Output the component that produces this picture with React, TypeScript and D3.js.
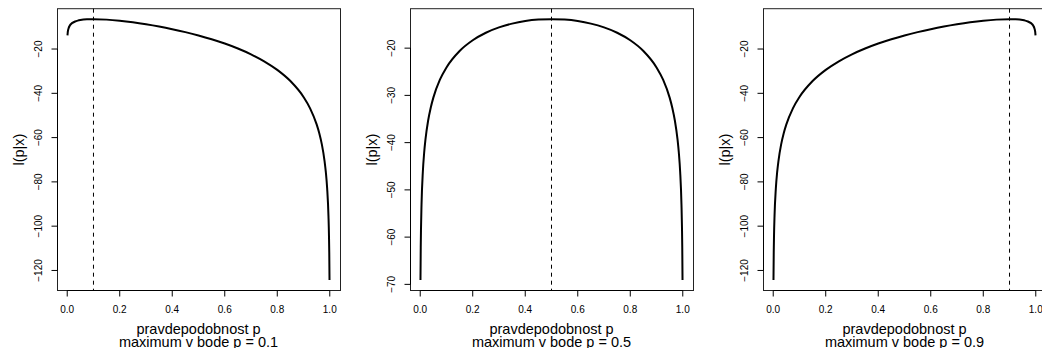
import React from "react";
import * as d3 from "d3";

const pGrid = [0.001,0.002,0.003,0.005,0.01,0.015,0.02,0.03,0.04,0.05,0.075,0.1,0.15,0.2,0.25,0.3,0.35,0.4,0.45,0.5,0.55,0.6,0.65,0.7,0.75,0.8,0.85,0.9,0.925,0.95,0.96,0.97,0.98,0.985,0.99,0.995,0.997,0.998,0.999];

const llP01 = [-13.83,-12.47,-11.67,-10.69,-9.39,-8.67,-8.19,-7.56,-7.17,-6.91,-6.58,-6.50,-6.72,-7.24,-7.95,-8.83,-9.85,-11.03,-12.36,-13.86,-15.57,-17.52,-19.76,-22.38,-25.53,-29.42,-34.47,-41.66,-46.78,-54.03,-58.02,-63.18,-70.46,-75.63,-82.91,-95.38,-104.57,-111.87,-124.34];

const llP05 = [-69.09,-62.17,-58.12,-53.03,-46.15,-42.15,-39.32,-35.37,-32.60,-30.47,-26.68,-24.08,-20.60,-18.33,-16.74,-15.61,-14.81,-14.27,-13.96,-13.86,-13.96,-14.27,-14.81,-15.61,-16.74,-18.33,-20.60,-24.08,-26.68,-30.47,-32.60,-35.37,-39.32,-42.15,-46.15,-53.03,-58.12,-62.17,-69.09];

const llP09 = [-124.34,-111.87,-104.57,-95.38,-82.91,-75.63,-70.46,-63.18,-58.02,-54.03,-46.78,-41.66,-34.47,-29.42,-25.53,-22.38,-19.76,-17.52,-15.57,-13.86,-12.36,-11.03,-9.85,-8.83,-7.95,-7.24,-6.72,-6.50,-6.58,-6.91,-7.17,-7.56,-8.19,-8.67,-9.39,-10.69,-11.67,-12.47,-13.83];

const maxima = [0.1, 0.5, 0.9];
const maxLabels = ["0.1", "0.5", "0.9"];
const xTicks = [0, 0.2, 0.4, 0.6, 0.8, 1.0];
const yTicksA = [-20, -40, -60, -80, -100, -120];
const yTicksB = [-20, -30, -40, -50, -60, -70];

const panels = [
  { values: llP01, yTicks: yTicksA, pmax: maxima[0], label: maxLabels[0] },
  { values: llP05, yTicks: yTicksB, pmax: maxima[1], label: maxLabels[1] },
  { values: llP09, yTicks: yTicksA, pmax: maxima[2], label: maxLabels[2] },
];

const W = 1042, H = 348;
const panelLefts = [57, 410, 763];
const plotW = 283;
const top = 8.7, bottom = 290.5;
const font = "'Liberation Sans', Arial, Helvetica, sans-serif";

function expand(ext: [number, number]): [number, number] {
  const d = (ext[1] - ext[0]) * 0.04;
  return [ext[0] - d, ext[1] + d];
}

function Panel({ idx }: { idx: number }) {
  const p = panels[idx];
  const left = panelLefts[idx];
  const x = d3.scaleLinear().domain(expand(d3.extent(pGrid) as [number, number])).range([left, left + plotW]);
  const y = d3.scaleLinear().domain(expand(d3.extent(p.values) as [number, number])).range([bottom, top]);
  const line = d3.line<number>().x((_, i) => x(pGrid[i])).y((v) => y(v)).curve(d3.curveMonotoneX);
  const yt = p.yTicks;
  const ytMin = d3.min(yt)!, ytMax = d3.max(yt)!;
  const cx = left + plotW / 2;
  return (
    <g>
      <rect x={left + 0.5} y={top} width={plotW} height={bottom - top} fill="none" stroke="#222" strokeWidth={1} />
      <line x1={x(p.pmax)} x2={x(p.pmax)} y1={top} y2={bottom} stroke="#000" strokeWidth={1} strokeDasharray="4,4" />
      <path d={line(p.values) || ""} fill="none" stroke="#000" strokeWidth={2} />
      <line x1={x(0)} x2={x(1)} y1={bottom} y2={bottom} stroke="#000" strokeWidth={1} />
      {xTicks.map((t) => (
        <g key={t}>
          <line x1={x(t)} x2={x(t)} y1={bottom} y2={bottom + 6} stroke="#000" strokeWidth={1} />
          <text x={x(t)} y={313} textAnchor="middle" fontSize={10} fontFamily={font}>{d3.format(".1f")(t)}</text>
        </g>
      ))}
      <line x1={left + 0.5} x2={left + 0.5} y1={y(ytMin)} y2={y(ytMax)} stroke="#000" strokeWidth={1} />
      {yt.map((t) => (
        <g key={t}>
          <line x1={left + 0.5} x2={left - 5.5} y1={y(t)} y2={y(t)} stroke="#000" strokeWidth={1} />
          <text transform={`translate(${left - 15.5},${y(t)}) rotate(-90)`} textAnchor="middle" fontSize={10} fontFamily={font}>{"\u2212" + Math.abs(t)}</text>
        </g>
      ))}
      <text transform={`translate(${left - 33.5},${(top + bottom) / 2}) rotate(-90)`} textAnchor="middle" fontSize={14.5} fontFamily={font}>l(p|x)</text>
      <text x={cx} y={333.5} textAnchor="middle" fontSize={14.5} fontFamily={font}>pravdepodobnost p</text>
      <text x={cx} y={346.5} textAnchor="middle" fontSize={14.5} fontFamily={font}>{`maximum v bode p = ${p.label}`}</text>
    </g>
  );
}

export default function App() {
  return (
    <svg width={W} height={H} style={{ position: "absolute", left: 0, top: 0, background: "#fff" }}>
      <rect width={W} height={H} fill="#fff" />
      {panels.map((_, i) => <Panel key={i} idx={i} />)}
    </svg>
  );
}
